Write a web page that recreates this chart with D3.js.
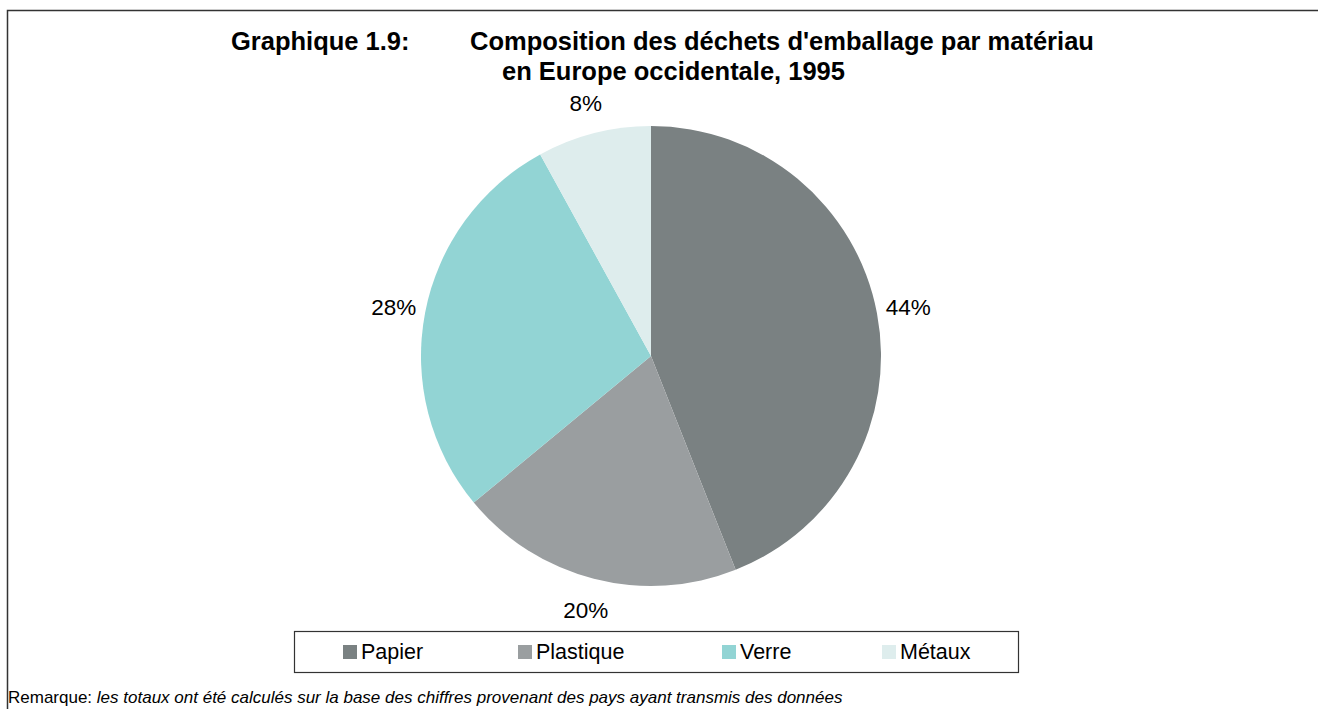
<!DOCTYPE html>
<html>
<head>
<meta charset="utf-8">
<script src="https://cdn.jsdelivr.net/npm/d3@7"></script>
<style>
  html, body { margin: 0; padding: 0; background: #fff; }
  svg { display: block; font-family: "Liberation Sans", Arial, sans-serif; }
</style>
</head>
<body>
<svg id="chart" width="1318" height="709"></svg>
<script>
// Packaging waste composition by material, Western Europe, 1995 (percent)
const materials = ["Papier", "Plastique", "Verre", "Métaux"];
const shares = [44, 20, 28, 8];
const sliceColors = ["#7a8182", "#9a9ea0", "#92d4d4", "#deeded"];

const titleLead = "Graphique 1.9:";
const titleLines = ["Composition des déchets d'emballage par matériau", "en Europe occidentale, 1995"];
const noteLabel = "Remarque: ";
const noteText = "les totaux ont été calculés sur la base des chiffres provenant des pays ayant transmis des données";

const svg = d3.select("#chart");
const W = 1318, H = 709;

// outer frame (continues beyond the visible area on the right and bottom)
svg.append("path")
  .attr("d", `M7.5,${H} L7.5,10.5 L${W},10.5`)
  .attr("fill", "none")
  .attr("stroke", "#333")
  .attr("stroke-width", 1.5);

// title
const title = svg.append("g").attr("font-weight", "bold").attr("font-size", 25.5).attr("fill", "#000");
title.append("text").attr("x", 231).attr("y", 50).text(titleLead);
title.append("text").attr("x", 470).attr("y", 50).text(titleLines[0]);
title.append("text").attr("x", 502).attr("y", 80).text(titleLines[1]);

// pie
const cx = 651, cy = 356, R = 230;
const data = materials.map((m, i) => ({ name: m, value: shares[i] }));
const pie = d3.pie().value(d => d.value).sort(null);
const arcs = pie(data);
const arc = d3.arc().innerRadius(0).outerRadius(R);
const labelArc = d3.arc().innerRadius(262).outerRadius(262);
const color = d3.scaleOrdinal().domain(materials).range(sliceColors);

const g = svg.append("g").attr("transform", `translate(${cx},${cy})`);
g.selectAll("path.slice")
  .data(arcs)
  .join("path")
  .attr("class", "slice")
  .attr("d", arc)
  .attr("fill", d => color(d.data.name));

g.selectAll("text.lbl")
  .data(arcs)
  .join("text")
  .attr("class", "lbl")
  .attr("transform", d => {
    const [x, y] = labelArc.centroid(d);
    return `translate(${x},${y + 1})`;
  })
  .attr("text-anchor", "middle")
  .attr("dominant-baseline", "central")
  .attr("font-size", 22.5)
  .attr("fill", "#000")
  .text(d => d.data.value + "%");

// legend
const legend = svg.append("g");
legend.append("rect")
  .attr("x", 294.5).attr("y", 631.5).attr("width", 724).attr("height", 41)
  .attr("fill", "#fff").attr("stroke", "#333").attr("stroke-width", 1.2);

const legendX = d3.scaleOrdinal().domain(materials).range([343, 518, 722, 882]);
const items = legend.selectAll("g.item").data(materials).join("g")
  .attr("class", "item")
  .attr("transform", d => `translate(${legendX(d)},652)`);
items.append("rect")
  .attr("x", 0).attr("y", -7).attr("width", 14).attr("height", 14)
  .attr("fill", d => color(d));
items.append("text")
  .attr("x", 18).attr("y", 0)
  .attr("dominant-baseline", "central")
  .attr("font-size", 21.5)
  .attr("fill", "#000")
  .text(d => d);

// note
const note = svg.append("text").attr("x", 8).attr("y", 703).attr("font-size", 17).attr("fill", "#000");
note.append("tspan").text(noteLabel);
note.append("tspan").attr("font-style", "italic").text(noteText);
</script>
</body>
</html>
